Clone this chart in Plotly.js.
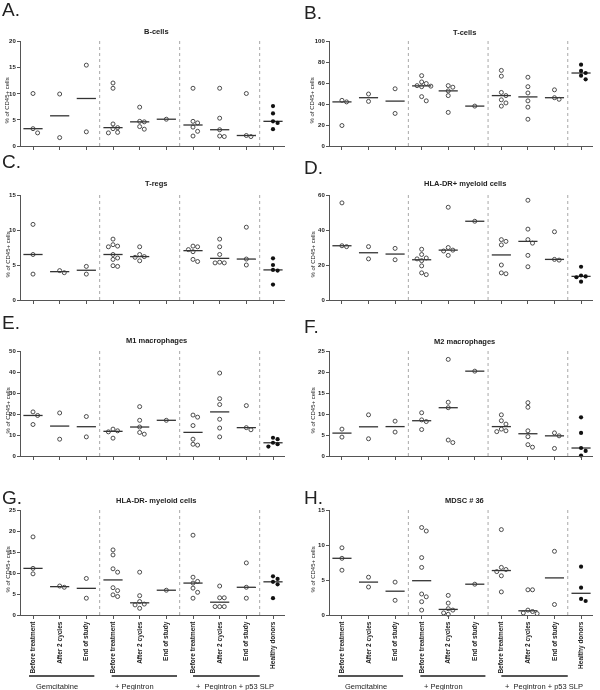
<!DOCTYPE html>
<html>
<head>
<meta charset="utf-8">
<script src="https://cdn.plot.ly/plotly-3.0.1.min.js"></script>
<style>html,body{margin:0;padding:0;background:#fff;}#chart{width:600px;height:690px;filter:grayscale(100%);}</style>
</head>
<body>
<div id="chart"></div>
<script>
// ---------- DATA ----------
const categories = ["Before treatment","After 2 cycles","End of study","Before treatment","After 2 cycles","End of study","Before treatment","After 2 cycles","End of study","Healthy donors"];
const groupNames = ["Gemcitabine","+ Pegintron","+  Pegintron + p53 SLP"];
const panelLetters = ["A.","B.","C.","D.","E.","F.","G.","H."];
const panelTitles = ["B-cells","T-cells","T-regs","HLA-DR+ myeloid cells","M1 macrophages","M2 macrophages","HLA-DR- myeloid cells","MDSC # 36"];
const yAxisTitle = "% of CD45+ cells";

const bCells   = [[10,3.3,2.5],[9.9,1.6],[15.4,2.7],[12,11,4.2,3.5,3.3,2.6,2.5],[7.4,4.7,4.6,3.7,3.2],[5.1],[11,4.7,4.4,3.6,2.8,1.9],[11,5.3,3.1,1.9,1.8],[10,2.0,1.8],[7.6,6.2,4.7,4.4,3.2]];
const tCells   = [[43.5,42,19.5],[49.5,42.5],[54.5,31],[67,61,59.5,57.5,57,56.5,47,43],[57.5,56,52.5,48,32],[38],[72,66.5,51,48,44,41,38],[65.5,56.5,50.5,43,37,25.5],[53.5,46,44.5],[77.5,71.5,69.5,67,63.5]];
const tRegs    = [[10.8,6.5,3.7],[4.2,3.9],[4.8,3.7],[8.7,7.9,7.7,7.6,6.5,6.0,5.8,4.9,4.8],[7.6,6.5,6.2,6.1,5.6],[],[7.7,7.6,7.2,6.9,5.8,5.5],[8.7,7.6,6.5,5.4,5.3,5.3],[10.4,5.85,5.0],[5.95,5.0,4.3,4.2,2.2]];
const hlaDrPos = [[55.5,31,30.5],[30.5,23.5],[29.5,23],[29,26,24,23.5,22.5,19.5,15.5,14.5],[53,30,28.5,28,25.5],[45],[34.5,33.5,31.5,20,15.5,15],[57,40.5,34.5,32.5,25.5,19],[39,23.2,22.8],[19,14,13.5,13,10.5]];
const m1Mac    = [[21,19.3,15],[20.5,8],[18.8,9.1],[12.8,12,11.5,8.5],[23.5,17,13.8,11.2,10.4],[17],[19.5,18.5,14.5,8,5.6,5.2],[39.5,27.3,24.5,17.5,13.3,9.1],[24,13.5,12.5],[8.7,8.0,6.3,5.6,4.5]];
const m2Mac    = [[6.4,4.5],[9.8,4.1],[8.3,5.7],[10.3,8.6,8.2,6.3],[23,12.8,11.5,3.8,3.2],[20.2],[9.8,8.4,7.6,6.4,6.0,5.8],[12.7,11.6,6.0,4.6,2.7,2.1],[5.5,4.8,1.8],[9.2,5.5,1.9,1.2,0.1]];
const hlaDrNeg = [[18.6,11.1,9.8],[6.9,6.6],[8.7,4.0],[15.5,14.3,11,10.2,6.5,5.8,4.8,4.4],[10.2,4.6,3.2,2.6,2.4,1.6],[5.9],[19,9,8,7.6,6.4,5.4,4.0],[6.9,4.1,4.1,2.0,2.0,2.0],[12.4,6.6,4.0],[9.2,8.6,7.9,7.3,4.0]];
const mdsc36   = [[9.6,8.1,6.4],[5.4,4.0],[4.7,2.1],[12.5,12,8.2,6.8,3.0,2.6,1.9,0.7],[2.8,1.7,0.9,0.7,0.3,0.1],[4.4],[12.2,6.8,6.5,6.2,5.6,3.3],[3.6,3.6,0.7,0.5,0.3,0.2],[9.1,1.5],[6.9,3.9,2.3,2.0]];

const panelData = [bCells,tCells,tRegs,hlaDrPos,m1Mac,m2Mac,hlaDrNeg,mdsc36];
const yMax  = [20,100,15,60,50,25,25,15];
const yStep = [5,20,5,20,10,5,5,5];

// ---------- LAYOUT GEOMETRY (pixels) ----------
const W = 600, H = 690;
const colPx = [[21,285],[330,593]];
const rowPx = [[41,146],[195,300],[351,456],[510,615]];
const letterY = [[9,12],[162,167],[322,326],[497,497]];
const titleY  = [[31,32],[183,183],[340,341],[500,500]];
const ytitleX = [7,312];
const bracketY = 676, groupLabelY = 686;
const groupSpans = [[-0.15,2.3],[2.95,5.4],[6.0,8.5]];

function median(a){ if(!a.length) return null; const s=[...a].sort((x,y)=>x-y); const n=s.length; return n%2?s[(n-1)/2]:(s[n/2-1]+s[n/2])/2; }
// beeswarm-like horizontal spreading of overlapping points (offsets in category units)
function spread(vals, pxPerUnit, pxPerCat){
  const idx = vals.map((v,i)=>i).sort((a,b)=>vals[b]-vals[a]);
  const off = new Array(vals.length).fill(0);
  const placed = [];
  const d = 4.4, step = 4.6;
  for(const i of idx){
    const yp = vals[i]*pxPerUnit;
    const cands=[0]; for(let k=1;k<6;k++){ cands.push(k*step, -k*step); }
    for(const cx of cands){
      if(placed.every(p=>Math.hypot(p.x-cx, p.y-yp) >= d)){ placed.push({x:cx,y:yp}); off[i]=cx/pxPerCat; break; }
    }
  }
  return off;
}

const FONT = "Liberation Sans, Arial, sans-serif";
const traces = [];
const layout = {
  width: W, height: H, margin:{l:0,r:0,t:0,b:0},
  paper_bgcolor:'#fff', plot_bgcolor:'#fff', showlegend:false, hovermode:false,
  font:{family:FONT, color:'#222', size:7},
  shapes:[], annotations:[]
};

panelData.forEach((data,k)=>{
  const r = Math.floor(k/2), c = k%2;
  const xa = k===0?'x':'x'+(k+1), ya = k===0?'y':'y'+(k+1);
  const xKey = k===0?'xaxis':'xaxis'+(k+1), yKey = k===0?'yaxis':'yaxis'+(k+1);
  const [top,bot] = rowPx[r];
  const pxPerUnit = (bot-top)/yMax[k];
  const pxPerCat = (colPx[c][1]-colPx[c][0])/9.9;
  const isBottom = r===3;

  layout[xKey] = {
    domain:[colPx[c][0]/W, colPx[c][1]/W], anchor:ya,
    range:[-0.45,9.45], showgrid:false, zeroline:false,
    showline:true, linecolor:'#555', linewidth:1,
    ticks:'outside', ticklen:3, tickcolor:'#555', tickwidth:1,
    tickvals:categories.map((_,i)=>i), ticktext:categories,
    showticklabels:isBottom, tickangle:-90,
    tickfont:{family:FONT, size:6.5, color:'#222', weight:'bold'}
  };
  const tv=[]; for(let v=0; v<=yMax[k]+1e-9; v+=yStep[k]) tv.push(v);
  layout[yKey] = {
    domain:[1-bot/H, 1-top/H], anchor:xa,
    range:[0,yMax[k]], showgrid:false, zeroline:false,
    showline:true, linecolor:'#555', linewidth:1,
    ticks:'outside', ticklen:3, tickcolor:'#555', tickwidth:1,
    tickvals:tv, ticktext:tv.map(String),
    tickfont:{family:FONT, size:6, color:'#222', weight:'bold'}
  };

  [2.5,5.5,8.5].forEach(xv=>{
    layout.shapes.push({type:'line', xref:xa, yref:ya, x0:xv, x1:xv, y0:0, y1:yMax[k],
      line:{color:'#a8a8a8', width:1, dash:'dot'}});
  });

  const ox=[],oy=[],fx=[],fy=[], mx=[], my=[];
  data.forEach((vals,i)=>{
    const off = spread(vals, pxPerUnit, pxPerCat);
    vals.forEach((v,j)=>{
      if(i===9){ fx.push(i+off[j]); fy.push(v); } else { ox.push(i+off[j]); oy.push(v); }
    });
    const m = median(vals);
    if(m!==null){ mx.push(i-0.36,i+0.36,null); my.push(m,m,null); }
  });
  traces.push({type:'scatter', mode:'lines', x:mx, y:my, xaxis:xa, yaxis:ya,
    line:{color:'#333', width:1.3}, cliponaxis:false});
  traces.push({type:'scatter', mode:'markers', x:ox, y:oy, xaxis:xa, yaxis:ya, cliponaxis:false,
    marker:{symbol:'circle-open', size:4, color:'#3a3a3a', line:{width:0.9, color:'#3a3a3a'}}});
  traces.push({type:'scatter', mode:'markers', x:fx, y:fy, xaxis:xa, yaxis:ya, cliponaxis:false,
    marker:{symbol:'circle', size:4.2, color:'#111'}});

  layout.annotations.push({text:panelLetters[k], xref:'paper', yref:'paper',
    x:(c===0?0:302)/W, y:1-letterY[r][c]/H, xanchor:'left', yanchor:'middle', showarrow:false,
    font:{family:FONT, size:19, color:'#222'}});
  layout.annotations.push({text:panelTitles[k], xref:'paper', yref:'paper',
    x:((colPx[c][0]+colPx[c][1])/2+3)/W, y:1-titleY[r][c]/H, xanchor:'center', yanchor:'middle', showarrow:false,
    font:{family:FONT, size:7.5, color:'#222', weight:'bold'}});
  layout.annotations.push({text:yAxisTitle, xref:'paper', yref:'paper', textangle:-90,
    x:ytitleX[c]/W, y:1-((top+bot)/2+7)/H, xanchor:'center', yanchor:'middle', showarrow:false,
    font:{family:FONT, size:6, color:'#222'}});

  if(isBottom){
    groupSpans.forEach((sp,g)=>{
      layout.shapes.push({type:'line', xref:xa, yref:'paper', x0:sp[0], x1:sp[1],
        y0:1-bracketY/H, y1:1-bracketY/H, line:{color:'#555', width:2}});
      layout.annotations.push({text:groupNames[g], xref:xa, yref:'paper',
        x:g===0?0.9:sp[0]+0.05, xanchor:g===0?'center':'left',
        y:1-groupLabelY/H, yanchor:'middle', showarrow:false,
        font:{family:FONT, size:7.5, color:'#222'}});
    });
  }
});

Plotly.newPlot('chart', traces, layout, {displayModeBar:false, staticPlot:true});
</script>
</body>
</html>
